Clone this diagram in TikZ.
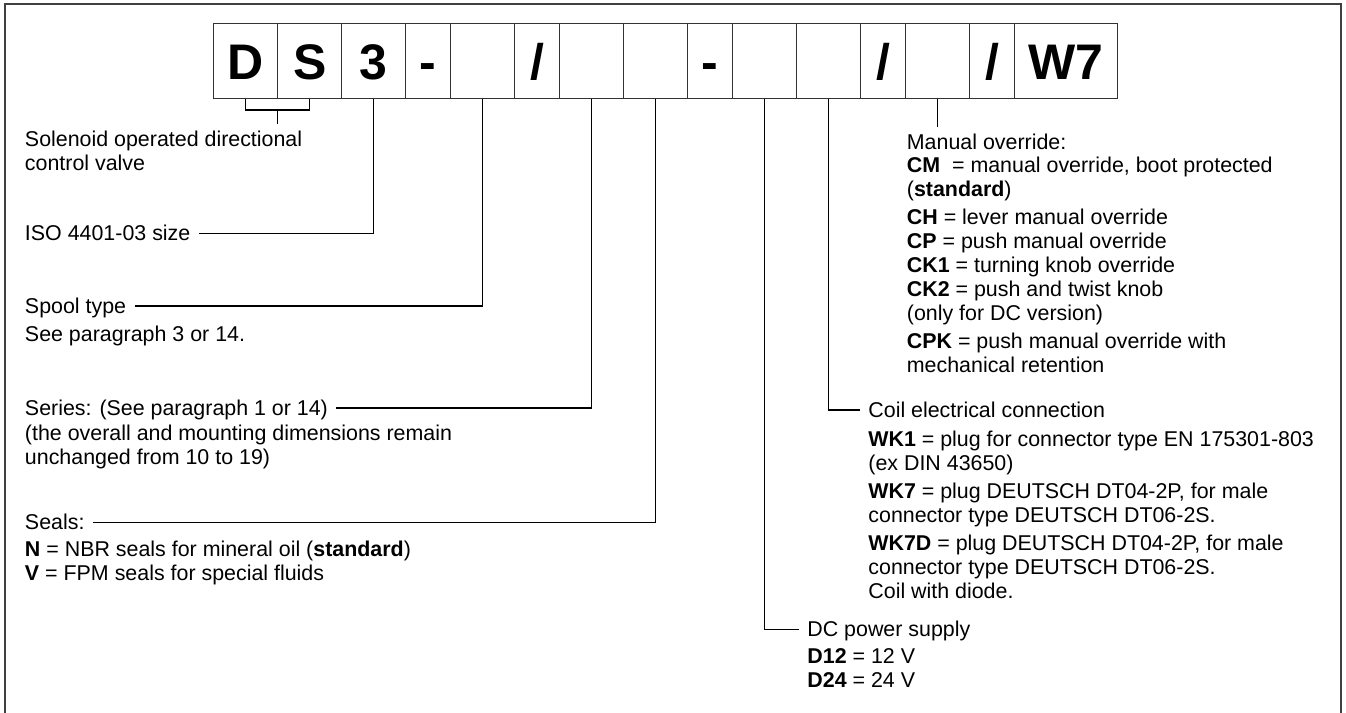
\documentclass[tikz,border=0pt]{standalone}
\usepackage{fontspec}
\setmainfont{Liberation Sans}
\usetikzlibrary{positioning}

\tikzset{
  cell/.style={draw=black!80, line width=0.75pt, minimum width=32pt, minimum height=37.6pt,
    inner sep=0pt, outer sep=0pt, font=\fontsize{25}{25}\selectfont\bfseries,
    text height=18pt, text depth=0pt},
  narrow/.style={cell, minimum width=22.5pt},
  head/.style={anchor=base west, inner xsep=4pt, inner ysep=0pt,
    font=\fontsize{10.7}{12}\selectfont, text height=7.7pt, text depth=0.6pt},
  % multi-line texts: placed by the baseline of their last line
  body/.style={anchor=base west, inner xsep=4pt, inner ysep=0pt, align=left,
    font=\fontsize{10.7}{12}\selectfont},
  link/.style={line width=0.6pt},
  frame/.style={draw=black!75, line width=1pt}
}

\begin{document}
\begin{tikzpicture}[x=0.5pt, y=-0.5pt]
    \useasboundingbox (0,0) rectangle (1346,713);

    % Frame
    \draw[frame] (5,713) -- (5,4) -- (1341,4) -- (1341,713);

    % Type code boxes
    \node[cell] (c1) at (245.7,61.1) {D};
    \node[cell, right=0pt of c1] (c2) {S};
    \node[cell, right=0pt of c2] (c3) {3};
    \node[narrow, right=0pt of c3] (c4) {-};
    \node[cell, right=0pt of c4] (c5) {};
    \node[narrow, right=0pt of c5] (c6) {/};
    \node[cell, right=0pt of c6] (c7) {};
    \node[cell, right=0pt of c7] (c8) {};
    \node[narrow, right=0pt of c8] (c9) {-};
    \node[cell, right=0pt of c9] (c10) {};
    \node[cell, right=0pt of c10] (c11) {};
    \node[narrow, right=0pt of c11] (c12) {/};
    \node[cell, right=0pt of c12] (c13) {};
    \node[narrow, right=0pt of c13] (c14) {/};
    \node[cell, right=0pt of c14, minimum width=51.5pt] (c15) {W7};

    % Left column
    \node[body] (solenoid) at (16.6,170.5) {Solenoid operated directional\\control valve};
    \node[head] (iso) at (16.6,240.4) {ISO 4401-03 size};
    \node[head] (spool) at (16.6,313.1) {Spool type};
    \node[body] (spooltxt) at (16.6,341.5) {See paragraph 3 or 14.};
    \node[head] (series) at (16.6,415) {Series: (See paragraph 1 or 14)};
    \node[body] (seriestxt) at (16.6,464) {(the overall and mounting dimensions remain\\unchanged from 10 to 19)};
    \node[head] (seals) at (16.6,529.4) {Seals:};
    \node[body] (sealstxt) at (16.6,580.5) {\textbf{N} = NBR seals for mineral oil (\textbf{standard})\\\textbf{V} = FPM seals for special fluids};

    % Right column
    \node[head] (manual) at (898.5,149) {Manual override:};
    \node[body] (manualtxt) at (898.5,372.5) {\textbf{CM}\ \ = manual override, boot protected\\(\textbf{standard})\\[2pt]
      \textbf{CH} = lever manual override\\\textbf{CP} = push manual override\\\textbf{CK1} = turning knob override\\
      \textbf{CK2} = push and twist knob\\(only for DC version)\\[2pt]
      \textbf{CPK} = push manual override with\\mechanical retention};
    \node[head] (coil) at (860,417.1) {Coil electrical connection};
    \node[body] (coiltxt) at (860,598) {\textbf{WK1} = plug for connector type EN 175301-803\\(ex DIN 43650)\\[2pt]
      \textbf{WK7} = plug DEUTSCH DT04-2P, for male\\connector type DEUTSCH DT06-2S.\\[2pt]
      \textbf{WK7D} = plug DEUTSCH DT04-2P, for male\\connector type DEUTSCH DT06-2S.\\Coil with diode.};
    \node[head] (dc) at (799,636.4) {DC power supply};
    \node[body] (dctxt) at (799,687) {\textbf{D12} = 12 V\\\textbf{D24} = 24 V};

    % Leader lines
    \coordinate (brk) at (277.7,110);
    \coordinate (sol) at (277.7,124.3);
    \coordinate (mo) at (937.7,126.7);
    \draw[link] (c1.south) |- (brk) -| (c2.south);
    \draw[link] (brk) -- (sol);
    \draw[link] (c3.south) |- (iso.east);
    \draw[link] (c5.south) |- (spool.east);
    \draw[link] (c7.south) |- (series.east);
    \draw[link] (c8.south) |- (seals.east);
    \draw[link] (c10.south) |- (dc.west);
    \draw[link] (c11.south) |- (coil.west);
    \draw[link] (c13.south) -- (mo);
\end{tikzpicture}
\end{document}
